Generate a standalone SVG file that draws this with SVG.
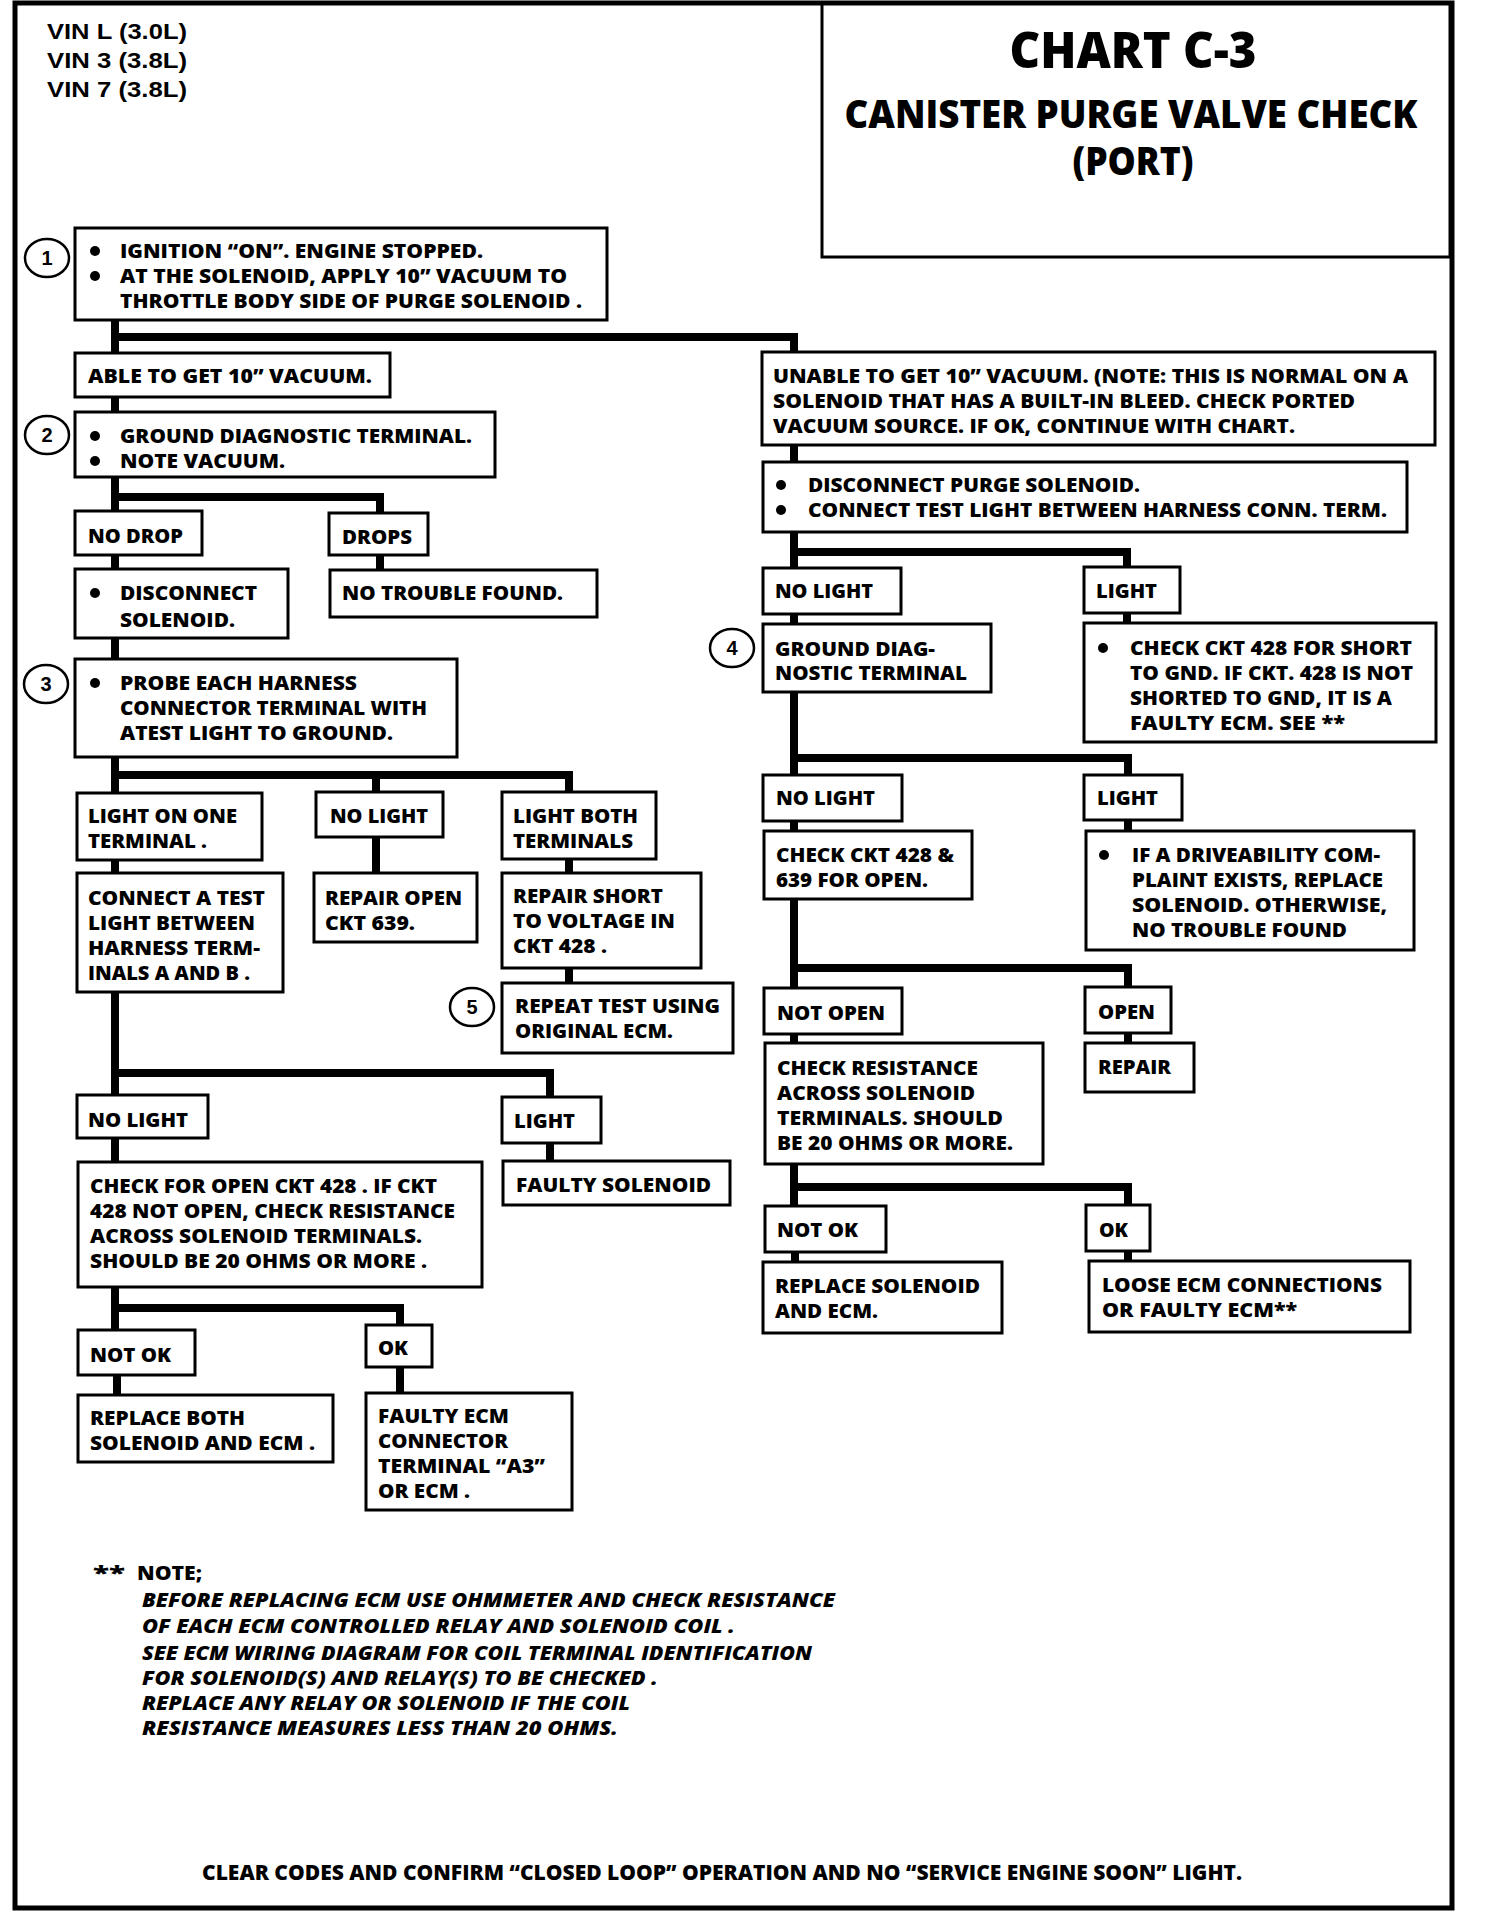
<svg xmlns="http://www.w3.org/2000/svg" width="1504" height="1912" viewBox="0 0 1504 1912">
<style>
.box{fill:#fff;stroke:#000;stroke-width:3}
.t{font-family:'Open Sans','Noto Sans',sans-serif;font-weight:800;font-size:20px;fill:#000}
.ti{font-family:'Open Sans','Noto Sans',sans-serif;font-weight:800;font-style:italic;font-size:20px;fill:#000}
.h1{font-size:49px}
.h2{font-size:39px}
.ft{font-size:21px}
.a{font-family:'Liberation Sans',Arial,sans-serif;font-weight:700;fill:#000}
.conn{fill:none;stroke:#000;stroke-width:8;stroke-linejoin:miter}
.num{fill:#fff;stroke:#000;stroke-width:2.5}
.b{fill:#000}
</style>
<rect x="0" y="0" width="1504" height="1912" fill="#fff"/>
<rect x="15" y="3" width="1437" height="1905" fill="none" stroke="#000" stroke-width="5"/>
<g id="title">
<rect x="822" y="3" width="628" height="254" fill="none" stroke="#000" stroke-width="3"/>
<text class="t h1" x="1133" y="68" text-anchor="middle" textLength="247" lengthAdjust="spacingAndGlyphs">CHART C-3</text>
<text class="t h2" x="1131" y="128" text-anchor="middle" textLength="573" lengthAdjust="spacingAndGlyphs">CANISTER PURGE VALVE CHECK</text>
<text class="t h2" x="1133" y="175" text-anchor="middle" textLength="121" lengthAdjust="spacingAndGlyphs">(PORT)</text>
</g>
<g id="vin">
<text class="a" x="47" y="39" font-size="22" textLength="140" lengthAdjust="spacingAndGlyphs">VIN L (3.0L)</text>
<text class="a" x="47" y="68" font-size="22" textLength="140" lengthAdjust="spacingAndGlyphs">VIN 3 (3.8L)</text>
<text class="a" x="47" y="97" font-size="22" textLength="140" lengthAdjust="spacingAndGlyphs">VIN 7 (3.8L)</text>
</g>
<g id="connectors">
<path class="conn" d="M115 320 V353 M115 337 H794 V352"/>
<path class="conn" d="M115 397 V412"/>
<path class="conn" d="M115 477 V511 M115 497 H380 V513"/>
<path class="conn" d="M115 555 V569"/>
<path class="conn" d="M380 555 V570"/>
<path class="conn" d="M115 638 V659"/>
<path class="conn" d="M115 757 V793 M115 775 H569 V792 M376 775 V792"/>
<path class="conn" d="M115 860 V873 M376 837 V873 M569 859 V873"/>
<path class="conn" d="M569 968 V983"/>
<path class="conn" d="M115 992 V1095 M115 1073 H550 V1097"/>
<path class="conn" d="M115 1138 V1162 M550 1143 V1161"/>
<path class="conn" d="M115 1287 V1330 M115 1308 H400 V1325"/>
<path class="conn" d="M117 1375 V1395 M400 1367 V1393"/>
<path class="conn" d="M794 445 V462"/>
<path class="conn" d="M794 532 V568 M794 552 H1127 V567"/>
<path class="conn" d="M794 614 V624 M1127 613 V623"/>
<path class="conn" d="M794 692 V775 M794 758 H1128 V775"/>
<path class="conn" d="M794 821 V831 M1128 820 V831"/>
<path class="conn" d="M794 899 V988 M794 968 H1128 V987"/>
<path class="conn" d="M794 1034 V1043 M1128 1033 V1043"/>
<path class="conn" d="M794 1164 V1206 M794 1187 H1128 V1205"/>
<path class="conn" d="M795 1252 V1262 M1128 1251 V1261"/>
</g>
<g id="step1">
<ellipse class="num" cx="47" cy="258" rx="22" ry="19"/>
<text class="a" x="47" y="265" font-size="20" text-anchor="middle">1</text>
</g>
<g id="step2">
<ellipse class="num" cx="47" cy="435" rx="22" ry="19"/>
<text class="a" x="47" y="442" font-size="20" text-anchor="middle">2</text>
</g>
<g id="step3">
<ellipse class="num" cx="46" cy="684" rx="22" ry="19"/>
<text class="a" x="46" y="691" font-size="20" text-anchor="middle">3</text>
</g>
<g id="step4">
<ellipse class="num" cx="732" cy="648" rx="22" ry="19"/>
<text class="a" x="732" y="655" font-size="20" text-anchor="middle">4</text>
</g>
<g id="step5">
<ellipse class="num" cx="472" cy="1007" rx="22" ry="19"/>
<text class="a" x="472" y="1014" font-size="20" text-anchor="middle">5</text>
</g>
<g id="n1">
<rect class="box" x="75" y="228" width="532" height="92"/>
<circle class="b" cx="95" cy="251" r="5"/><circle class="b" cx="95" cy="276" r="5"/>
<text class="t" x="120" y="258" textLength="363" lengthAdjust="spacingAndGlyphs">IGNITION “ON”.  ENGINE STOPPED.</text>
<text class="t" x="120" y="283" textLength="447" lengthAdjust="spacingAndGlyphs">AT THE SOLENOID, APPLY 10” VACUUM TO</text>
<text class="t" x="120" y="308" textLength="462" lengthAdjust="spacingAndGlyphs">THROTTLE BODY SIDE OF PURGE SOLENOID .</text>
</g>
<g id="n2">
<rect class="box" x="75" y="353" width="315" height="44"/>
<text class="t" x="88" y="383" textLength="284" lengthAdjust="spacingAndGlyphs">ABLE TO GET 10” VACUUM.</text>
</g>
<g id="n3">
<rect class="box" x="75" y="412" width="420" height="65"/>
<circle class="b" cx="95" cy="436" r="5"/><circle class="b" cx="95" cy="461" r="5"/>
<text class="t" x="120" y="443" textLength="352" lengthAdjust="spacingAndGlyphs">GROUND DIAGNOSTIC TERMINAL.</text>
<text class="t" x="120" y="468" textLength="165" lengthAdjust="spacingAndGlyphs">NOTE VACUUM.</text>
</g>
<g id="n4">
<rect class="box" x="75" y="511" width="127" height="44"/>
<text class="t" x="88" y="543" textLength="95" lengthAdjust="spacingAndGlyphs">NO DROP</text>
</g>
<g id="n5">
<rect class="box" x="329" y="513" width="99" height="42"/>
<text class="t" x="342" y="544" textLength="70" lengthAdjust="spacingAndGlyphs">DROPS</text>
</g>
<g id="n6">
<rect class="box" x="75" y="569" width="213" height="69"/>
<circle class="b" cx="95" cy="593" r="5"/>
<text class="t" x="120" y="600" textLength="137" lengthAdjust="spacingAndGlyphs">DISCONNECT</text>
<text class="t" x="120" y="627" textLength="115" lengthAdjust="spacingAndGlyphs">SOLENOID.</text>
</g>
<g id="n7">
<rect class="box" x="330" y="570" width="267" height="47"/>
<text class="t" x="342" y="600" textLength="221" lengthAdjust="spacingAndGlyphs">NO TROUBLE FOUND.</text>
</g>
<g id="n8">
<rect class="box" x="75" y="659" width="382" height="98"/>
<circle class="b" cx="95" cy="683" r="5"/>
<text class="t" x="120" y="690" textLength="237" lengthAdjust="spacingAndGlyphs">PROBE EACH HARNESS</text>
<text class="t" x="120" y="715" textLength="307" lengthAdjust="spacingAndGlyphs">CONNECTOR TERMINAL WITH</text>
<text class="t" x="120" y="740" textLength="273" lengthAdjust="spacingAndGlyphs">ATEST LIGHT TO GROUND.</text>
</g>
<g id="n9">
<rect class="box" x="77" y="793" width="185" height="67"/>
<text class="t" x="88" y="823" textLength="149" lengthAdjust="spacingAndGlyphs">LIGHT ON ONE</text>
<text class="t" x="88" y="848" textLength="119" lengthAdjust="spacingAndGlyphs">TERMINAL .</text>
</g>
<g id="n10">
<rect class="box" x="316" y="792" width="127" height="45"/>
<text class="t" x="330" y="823" textLength="98" lengthAdjust="spacingAndGlyphs">NO LIGHT</text>
</g>
<g id="n11">
<rect class="box" x="502" y="792" width="154" height="67"/>
<text class="t" x="513" y="823" textLength="125" lengthAdjust="spacingAndGlyphs">LIGHT BOTH</text>
<text class="t" x="513" y="848" textLength="120" lengthAdjust="spacingAndGlyphs">TERMINALS</text>
</g>
<g id="n12">
<rect class="box" x="77" y="873" width="206" height="119"/>
<text class="t" x="88" y="905" textLength="177" lengthAdjust="spacingAndGlyphs">CONNECT A TEST</text>
<text class="t" x="88" y="930" textLength="167" lengthAdjust="spacingAndGlyphs">LIGHT BETWEEN</text>
<text class="t" x="88" y="955" textLength="172" lengthAdjust="spacingAndGlyphs">HARNESS TERM-</text>
<text class="t" x="88" y="980" textLength="162" lengthAdjust="spacingAndGlyphs">INALS A AND B .</text>
</g>
<g id="n13">
<rect class="box" x="314" y="873" width="163" height="69"/>
<text class="t" x="325" y="905" textLength="137" lengthAdjust="spacingAndGlyphs">REPAIR OPEN</text>
<text class="t" x="325" y="930" textLength="90" lengthAdjust="spacingAndGlyphs">CKT 639.</text>
</g>
<g id="n14">
<rect class="box" x="502" y="873" width="199" height="95"/>
<text class="t" x="513" y="903" textLength="150" lengthAdjust="spacingAndGlyphs">REPAIR SHORT</text>
<text class="t" x="513" y="928" textLength="162" lengthAdjust="spacingAndGlyphs">TO VOLTAGE IN</text>
<text class="t" x="513" y="953" textLength="94" lengthAdjust="spacingAndGlyphs">CKT 428 .</text>
</g>
<g id="n15">
<rect class="box" x="502" y="983" width="231" height="70"/>
<text class="t" x="515" y="1013" textLength="205" lengthAdjust="spacingAndGlyphs">REPEAT TEST USING</text>
<text class="t" x="515" y="1038" textLength="158" lengthAdjust="spacingAndGlyphs">ORIGINAL ECM.</text>
</g>
<g id="n16">
<rect class="box" x="77" y="1095" width="131" height="43"/>
<text class="t" x="88" y="1127" textLength="100" lengthAdjust="spacingAndGlyphs">NO LIGHT</text>
</g>
<g id="n17">
<rect class="box" x="502" y="1097" width="99" height="46"/>
<text class="t" x="514" y="1128" textLength="61" lengthAdjust="spacingAndGlyphs">LIGHT</text>
</g>
<g id="n18">
<rect class="box" x="78" y="1162" width="404" height="125"/>
<text class="t" x="90" y="1193" textLength="347" lengthAdjust="spacingAndGlyphs">CHECK FOR OPEN CKT 428 . IF CKT</text>
<text class="t" x="90" y="1218" textLength="365" lengthAdjust="spacingAndGlyphs">428 NOT OPEN, CHECK RESISTANCE</text>
<text class="t" x="90" y="1243" textLength="332" lengthAdjust="spacingAndGlyphs">ACROSS SOLENOID TERMINALS.</text>
<text class="t" x="90" y="1268" textLength="337" lengthAdjust="spacingAndGlyphs">SHOULD BE 20 OHMS OR MORE .</text>
</g>
<g id="n19">
<rect class="box" x="503" y="1161" width="227" height="44"/>
<text class="t" x="516" y="1192" textLength="195" lengthAdjust="spacingAndGlyphs">FAULTY SOLENOID</text>
</g>
<g id="n20">
<rect class="box" x="78" y="1330" width="117" height="45"/>
<text class="t" x="90" y="1362" textLength="81" lengthAdjust="spacingAndGlyphs">NOT OK</text>
</g>
<g id="n21">
<rect class="box" x="366" y="1325" width="66" height="42"/>
<text class="t" x="378" y="1355" textLength="30" lengthAdjust="spacingAndGlyphs">OK</text>
</g>
<g id="n22">
<rect class="box" x="78" y="1395" width="255" height="67"/>
<text class="t" x="90" y="1425" textLength="155" lengthAdjust="spacingAndGlyphs">REPLACE BOTH</text>
<text class="t" x="90" y="1450" textLength="225" lengthAdjust="spacingAndGlyphs">SOLENOID AND ECM .</text>
</g>
<g id="n23">
<rect class="box" x="366" y="1393" width="206" height="117"/>
<text class="t" x="378" y="1423" textLength="131" lengthAdjust="spacingAndGlyphs">FAULTY ECM</text>
<text class="t" x="378" y="1448" textLength="130" lengthAdjust="spacingAndGlyphs">CONNECTOR</text>
<text class="t" x="378" y="1473" textLength="167" lengthAdjust="spacingAndGlyphs">TERMINAL  “A3”</text>
<text class="t" x="378" y="1498" textLength="92" lengthAdjust="spacingAndGlyphs">OR ECM .</text>
</g>
<g id="n24">
<rect class="box" x="762" y="352" width="673" height="93"/>
<text class="t" x="773" y="383" textLength="635" lengthAdjust="spacingAndGlyphs">UNABLE TO GET 10” VACUUM. (NOTE:  THIS IS NORMAL ON A</text>
<text class="t" x="773" y="408" textLength="582" lengthAdjust="spacingAndGlyphs">SOLENOID THAT HAS A BUILT-IN BLEED.  CHECK PORTED</text>
<text class="t" x="773" y="433" textLength="522" lengthAdjust="spacingAndGlyphs">VACUUM SOURCE.  IF OK, CONTINUE WITH CHART.</text>
</g>
<g id="n25">
<rect class="box" x="763" y="462" width="644" height="70"/>
<circle class="b" cx="781" cy="485" r="5"/><circle class="b" cx="781" cy="510" r="5"/>
<text class="t" x="808" y="492" textLength="332" lengthAdjust="spacingAndGlyphs">DISCONNECT PURGE SOLENOID.</text>
<text class="t" x="808" y="517" textLength="579" lengthAdjust="spacingAndGlyphs">CONNECT TEST LIGHT BETWEEN HARNESS CONN. TERM.</text>
</g>
<g id="n26">
<rect class="box" x="763" y="568" width="138" height="46"/>
<text class="t" x="775" y="598" textLength="98" lengthAdjust="spacingAndGlyphs">NO LIGHT</text>
</g>
<g id="n27">
<rect class="box" x="1084" y="567" width="96" height="46"/>
<text class="t" x="1096" y="598" textLength="61" lengthAdjust="spacingAndGlyphs">LIGHT</text>
</g>
<g id="n28">
<rect class="box" x="763" y="624" width="228" height="68"/>
<text class="t" x="775" y="656" textLength="160" lengthAdjust="spacingAndGlyphs">GROUND DIAG-</text>
<text class="t" x="775" y="680" textLength="192" lengthAdjust="spacingAndGlyphs">NOSTIC TERMINAL</text>
</g>
<g id="n29">
<rect class="box" x="1084" y="623" width="352" height="119"/>
<circle class="b" cx="1103" cy="648" r="5"/>
<text class="t" x="1130" y="655" textLength="282" lengthAdjust="spacingAndGlyphs">CHECK CKT 428 FOR SHORT</text>
<text class="t" x="1130" y="680" textLength="283" lengthAdjust="spacingAndGlyphs">TO GND.  IF CKT. 428 IS NOT</text>
<text class="t" x="1130" y="705" textLength="262" lengthAdjust="spacingAndGlyphs">SHORTED TO GND, IT IS A</text>
<text class="t" x="1130" y="730" textLength="215" lengthAdjust="spacingAndGlyphs">FAULTY ECM.  SEE **</text>
</g>
<g id="n30">
<rect class="box" x="763" y="775" width="139" height="46"/>
<text class="t" x="776" y="805" textLength="99" lengthAdjust="spacingAndGlyphs">NO LIGHT</text>
</g>
<g id="n31">
<rect class="box" x="1084" y="775" width="98" height="45"/>
<text class="t" x="1097" y="805" textLength="61" lengthAdjust="spacingAndGlyphs">LIGHT</text>
</g>
<g id="n32">
<rect class="box" x="764" y="831" width="208" height="68"/>
<text class="t" x="776" y="862" textLength="178" lengthAdjust="spacingAndGlyphs">CHECK CKT 428 &amp;</text>
<text class="t" x="776" y="887" textLength="152" lengthAdjust="spacingAndGlyphs">639 FOR OPEN.</text>
</g>
<g id="n33">
<rect class="box" x="1086" y="831" width="328" height="119"/>
<circle class="b" cx="1104" cy="855" r="5"/>
<text class="t" x="1132" y="862" textLength="248" lengthAdjust="spacingAndGlyphs">IF A DRIVEABILITY COM-</text>
<text class="t" x="1132" y="887" textLength="251" lengthAdjust="spacingAndGlyphs">PLAINT EXISTS, REPLACE</text>
<text class="t" x="1132" y="912" textLength="255" lengthAdjust="spacingAndGlyphs">SOLENOID.  OTHERWISE,</text>
<text class="t" x="1132" y="937" textLength="215" lengthAdjust="spacingAndGlyphs">NO TROUBLE FOUND</text>
</g>
<g id="n34">
<rect class="box" x="764" y="988" width="138" height="46"/>
<text class="t" x="777" y="1020" textLength="108" lengthAdjust="spacingAndGlyphs">NOT OPEN</text>
</g>
<g id="n35">
<rect class="box" x="1085" y="987" width="86" height="46"/>
<text class="t" x="1098" y="1019" textLength="57" lengthAdjust="spacingAndGlyphs">OPEN</text>
</g>
<g id="n36">
<rect class="box" x="765" y="1043" width="278" height="121"/>
<text class="t" x="777" y="1075" textLength="201" lengthAdjust="spacingAndGlyphs">CHECK RESISTANCE</text>
<text class="t" x="777" y="1100" textLength="198" lengthAdjust="spacingAndGlyphs">ACROSS SOLENOID</text>
<text class="t" x="777" y="1125" textLength="226" lengthAdjust="spacingAndGlyphs">TERMINALS.  SHOULD</text>
<text class="t" x="777" y="1150" textLength="236" lengthAdjust="spacingAndGlyphs">BE 20 OHMS OR MORE.</text>
</g>
<g id="n37">
<rect class="box" x="1085" y="1043" width="109" height="49"/>
<text class="t" x="1098" y="1074" textLength="73" lengthAdjust="spacingAndGlyphs">REPAIR</text>
</g>
<g id="n38">
<rect class="box" x="765" y="1206" width="121" height="46"/>
<text class="t" x="777" y="1237" textLength="81" lengthAdjust="spacingAndGlyphs">NOT OK</text>
</g>
<g id="n39">
<rect class="box" x="1086" y="1205" width="64" height="46"/>
<text class="t" x="1099" y="1237" textLength="29" lengthAdjust="spacingAndGlyphs">OK</text>
</g>
<g id="n40">
<rect class="box" x="763" y="1262" width="239" height="71"/>
<text class="t" x="775" y="1293" textLength="205" lengthAdjust="spacingAndGlyphs">REPLACE SOLENOID</text>
<text class="t" x="775" y="1318" textLength="103" lengthAdjust="spacingAndGlyphs">AND ECM.</text>
</g>
<g id="n41">
<rect class="box" x="1089" y="1261" width="321" height="71"/>
<text class="t" x="1102" y="1292" textLength="280" lengthAdjust="spacingAndGlyphs">LOOSE ECM CONNECTIONS</text>
<text class="t" x="1102" y="1317" textLength="195" lengthAdjust="spacingAndGlyphs">OR FAULTY ECM**</text>
</g>
<g id="note">
<text class="t" x="93" y="1580" textLength="32" lengthAdjust="spacingAndGlyphs">**</text>
<text class="t" x="137" y="1580" textLength="65" lengthAdjust="spacingAndGlyphs">NOTE;</text>
<text class="ti" x="142" y="1607" textLength="693" lengthAdjust="spacingAndGlyphs">BEFORE REPLACING ECM USE OHMMETER AND CHECK RESISTANCE</text>
<text class="ti" x="142" y="1633" textLength="593" lengthAdjust="spacingAndGlyphs">OF EACH ECM CONTROLLED RELAY AND SOLENOID COIL .</text>
<text class="ti" x="142" y="1660" textLength="670" lengthAdjust="spacingAndGlyphs">SEE ECM WIRING DIAGRAM FOR COIL TERMINAL IDENTIFICATION</text>
<text class="ti" x="142" y="1685" textLength="516" lengthAdjust="spacingAndGlyphs">FOR SOLENOID(S) AND RELAY(S) TO BE CHECKED .</text>
<text class="ti" x="142" y="1710" textLength="488" lengthAdjust="spacingAndGlyphs">REPLACE ANY RELAY OR SOLENOID IF THE COIL</text>
<text class="ti" x="142" y="1735" textLength="476" lengthAdjust="spacingAndGlyphs">RESISTANCE MEASURES LESS THAN 20 OHMS.</text>
</g>
<g id="footer">
<text class="t ft" x="202" y="1880" textLength="1040" lengthAdjust="spacingAndGlyphs">CLEAR CODES AND CONFIRM “CLOSED LOOP” OPERATION AND NO “SERVICE ENGINE SOON” LIGHT.</text>
</g>
</svg>
